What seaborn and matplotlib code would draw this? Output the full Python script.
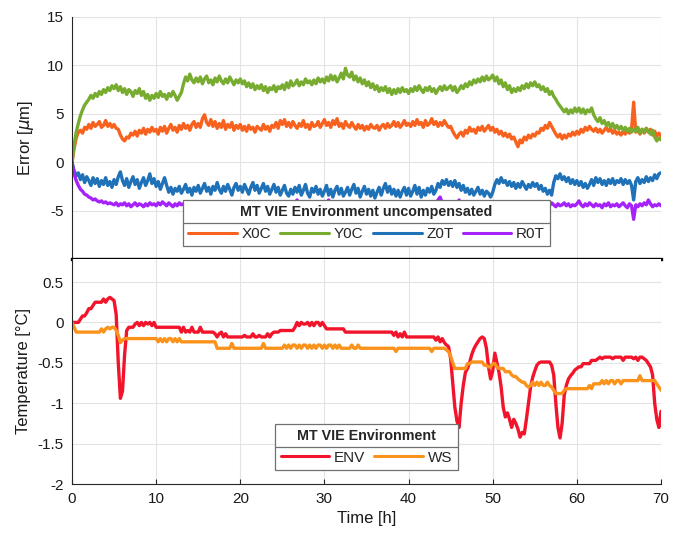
import numpy as np
import pandas as pd
import matplotlib
matplotlib.use("Agg")
import matplotlib.pyplot as plt
from matplotlib.lines import Line2D
import seaborn as sns

# ---------------- data (sampled every 0.25 h, 0 .. 70 h) ----------------
time_h = np.linspace(0, 70, 281)

x0c = [
    0.0, 1.4, 2.5, 3.1, 3.3, 3.0, 3.6, 3.4, 3.9, 3.5, 4.1, 3.7, 3.9, 4.2, 3.6, 3.8, 4.3, 3.7, 4.0, 3.6,
    3.9, 3.5, 3.4, 2.8, 2.4, 2.2, 2.6, 2.5, 3.0, 2.8, 3.2, 2.7, 3.3, 3.0, 3.5, 2.9, 3.4, 3.1, 3.6, 3.2,
    3.4, 2.9, 3.6, 3.2, 3.7, 3.0, 3.5, 3.9, 3.3, 3.6, 3.1, 3.8, 3.4, 4.0, 3.5, 3.8, 3.3, 3.9, 4.2, 3.6,
    4.0, 3.6, 4.5, 4.9, 4.1, 3.8, 4.4, 3.7, 4.2, 3.5, 4.0, 3.6, 4.3, 3.4, 3.9, 3.6, 4.1, 3.3, 3.8, 3.5,
    3.9, 3.3, 3.7, 3.2, 3.8, 3.4, 3.6, 3.1, 3.7, 3.5, 3.3, 3.9, 3.4, 3.7, 3.2, 3.8, 3.6, 4.1, 3.5, 4.3,
    3.9, 4.4, 3.7, 4.1, 3.6, 4.2, 3.8, 3.5, 4.0, 3.7, 4.3, 3.6, 3.9, 3.4, 4.1, 3.7, 3.8, 4.2, 3.6, 4.0,
    4.4, 3.8, 4.1, 3.6, 4.3, 3.9, 4.5, 3.7, 4.0, 3.5, 4.2, 3.8, 3.6, 4.1, 3.7, 3.4, 3.9, 3.5, 3.8, 3.3,
    3.7, 3.4, 3.9, 3.6, 3.5, 3.8, 3.3, 3.7, 3.9, 3.5, 4.0, 3.6, 3.8, 4.2, 3.7, 4.1, 3.6, 3.9, 4.3, 3.8,
    4.0, 3.7, 4.2, 3.8, 4.4, 3.9, 4.1, 3.6, 4.3, 3.8, 4.0, 4.5, 3.9, 4.2, 3.7, 4.1, 3.8, 4.3, 3.9, 3.6,
    3.7, 3.2, 2.8, 2.5, 2.9, 3.1, 2.7, 3.3, 3.0, 3.6, 3.2, 3.4, 3.0, 3.6, 3.3, 3.7, 3.2, 3.5, 3.8, 3.3,
    3.6, 3.1, 3.4, 2.9, 3.2, 2.7, 3.0, 2.6, 2.9, 2.4, 2.6, 2.1, 1.6, 2.3, 2.0, 2.6, 2.3, 2.8, 2.5, 2.9,
    2.7, 3.1, 3.0, 3.5, 3.3, 3.8, 3.5, 4.1, 3.7, 3.3, 2.9, 2.6, 2.9, 2.4, 2.8, 2.5, 2.9, 2.7, 3.1, 2.8,
    3.2, 2.9, 3.4, 3.1, 3.6, 3.3, 3.7, 3.4, 3.2, 3.5, 3.1, 3.4, 3.0, 3.3, 3.6, 3.2, 3.5, 3.0, 3.3, 2.9,
    3.1, 2.8, 3.2, 2.9, 3.3, 3.0, 3.4, 6.2, 3.1, 3.3, 2.9, 3.4, 3.0, 3.5, 3.1, 3.4, 2.8, 3.2, 2.7, 3.0,
    2.7,
]

y0c = [
    0.0, 1.8, 3.1, 4.0, 4.8, 5.4, 5.9, 6.2, 6.5, 6.9, 6.6, 7.1, 6.8, 7.3, 7.0, 7.5, 7.2, 7.7, 7.4, 7.9,
    7.6, 8.0, 7.4, 7.8, 7.2, 7.6, 7.0, 7.5, 7.3, 6.8, 7.4, 7.1, 7.6, 6.9, 7.3, 6.6, 7.0, 6.4, 6.9, 6.6,
    7.1, 6.7, 7.3, 6.8, 7.0, 6.5, 7.1, 6.8, 7.3, 6.9, 6.4, 6.8, 7.2, 8.1, 8.8, 8.4, 9.1, 8.5, 8.2, 8.7,
    8.3, 8.8, 8.1, 8.6, 8.9, 8.2, 8.5, 8.0, 8.7, 8.3, 8.9, 8.4, 8.1, 8.6, 8.2, 8.8, 8.4, 8.0, 8.5, 8.2,
    8.6, 8.1, 8.4, 7.8, 8.2, 7.7, 8.1, 7.5, 7.9, 7.6, 8.0, 7.4, 7.8, 7.2, 7.7, 7.5, 7.9, 7.3, 7.8, 7.6,
    8.0, 7.5, 8.2, 7.7, 8.4, 7.9, 8.1, 8.5, 7.9, 8.3, 8.0, 8.6, 8.2, 8.4, 8.0, 8.5, 8.1, 8.7, 8.3, 8.6,
    8.2, 8.8, 8.4, 9.0, 8.5, 8.9, 8.3, 8.7, 9.2, 8.6, 9.7, 9.0, 8.8, 9.3, 8.5, 8.9, 8.3, 8.7, 8.1, 8.5,
    7.9, 8.3, 7.7, 8.1, 7.5, 7.9, 7.3, 7.7, 7.4, 7.8, 7.2, 7.6, 7.0, 7.5, 7.1, 7.6, 7.2, 7.7, 7.3, 7.5,
    7.1, 7.6, 7.3, 7.8, 7.4, 7.9, 7.5, 7.2, 7.7, 7.4, 7.8, 7.3, 7.6, 7.1, 7.5, 7.8, 7.4, 7.9, 7.5, 7.7,
    7.9, 7.4, 7.8, 7.2, 7.5, 7.9, 7.6, 8.1, 7.8, 8.3, 8.0, 8.5, 8.2, 8.6, 8.3, 8.8, 8.4, 8.9, 8.5, 8.7,
    9.0, 8.4, 8.8, 8.1, 8.5, 7.8, 8.2, 7.5, 7.9, 7.2, 7.6, 7.3, 7.7, 7.4, 7.9, 7.6, 8.1, 7.7, 8.2, 7.9,
    8.3, 7.8, 8.0, 7.5, 7.8, 7.3, 7.6, 7.0, 7.3, 6.8, 6.5, 6.1, 5.8, 5.5, 5.2, 5.5, 5.0, 5.4, 5.1, 5.6,
    5.2, 5.6, 5.1, 5.5, 5.0, 5.4, 5.2, 5.6, 4.9, 4.5, 4.2, 4.6, 4.0, 4.3, 3.8, 4.1, 3.6, 4.0, 3.5, 3.8,
    3.4, 3.7, 3.3, 3.6, 3.2, 3.5, 3.1, 3.4, 3.2, 3.6, 3.0, 3.4, 3.1, 3.5, 3.2, 2.9, 3.3, 2.6, 2.2, 2.5,
    2.3,
]

z0t = [
    0.0, -0.9, -1.4, -1.1, -1.8, -1.3, -2.1, -1.5, -1.9, -2.4, -1.6, -2.2, -1.7, -2.5, -1.9, -2.3, -1.6, -2.4, -2.0, -2.6,
    -1.8, -2.3, -1.5, -1.0, -1.9, -2.4, -1.7, -2.6, -2.0, -1.5, -2.3, -1.8, -2.7, -2.1, -1.6, -2.4, -1.9, -1.2, -2.2, -1.7,
    -2.5, -2.0, -2.8, -2.2, -1.6, -2.4, -3.1, -2.6, -3.3, -2.7, -3.0, -2.5, -3.2, -2.8, -2.3, -3.1, -2.7, -3.4, -2.6, -3.0,
    -2.4, -3.2, -2.7, -2.2, -3.0, -2.6, -3.3, -2.5, -2.9, -2.1, -2.8, -3.2, -2.5, -3.0, -2.3, -2.8, -3.4, -2.6, -2.2, -2.9,
    -2.5, -3.1, -2.3, -2.8, -3.3, -2.6, -2.1, -2.9, -2.4, -3.2, -2.7, -2.2, -3.0, -2.5, -3.3, -2.8, -2.3, -3.1, -2.6, -3.4,
    -2.9, -2.4, -3.2, -3.5, -2.8, -3.3, -2.6, -3.1, -2.4, -3.4, -2.9, -2.3, -3.2, -3.6, -2.7, -3.1, -2.5, -3.3, -2.8, -3.5,
    -3.0, -2.4, -3.4, -2.8, -3.6, -2.9, -2.5, -3.3, -2.7, -3.5, -3.1, -2.6, -3.4, -2.8, -2.3, -3.2, -2.7, -3.6, -3.0, -2.5,
    -3.3, -2.8, -3.5, -2.9, -3.7, -3.1, -2.6, -3.4, -2.7, -2.2, -3.1, -2.5, -3.3, -2.8, -3.5, -2.9, -3.6, -3.0, -2.6, -3.4,
    -2.7, -3.5, -3.0, -2.4, -3.3, -2.6, -3.6, -2.9, -3.4, -2.7, -3.1, -2.5, -3.3, -2.9, -2.2, -2.6, -1.9, -2.3, -1.8, -2.4,
    -2.0, -2.5, -1.9, -2.6, -2.2, -2.9, -2.4, -3.1, -2.7, -3.3, -2.8, -3.4, -3.0, -2.6, -3.3, -2.9, -3.5, -3.0, -3.2, -3.6,
    -3.1, -2.3, -1.8, -2.2, -1.6, -2.1, -1.9, -2.4, -2.0, -2.5, -2.1, -2.7, -2.2, -2.6, -2.0, -2.4, -2.8, -2.3, -2.6, -2.1,
    -2.5, -2.2, -2.8, -2.4, -3.0, -2.7, -3.3, -2.9, -3.4, -2.1, -1.4, -1.7, -1.2, -1.8, -1.5, -2.0, -1.6, -2.2, -1.8, -2.3,
    -1.9, -2.4, -2.0, -2.6, -2.2, -2.7, -2.3, -1.8, -2.4, -1.6, -2.1, -1.7, -2.3, -1.9, -2.4, -1.8, -2.2, -1.7, -2.3, -1.9,
    -2.1, -1.7, -2.3, -1.8, -2.2, -1.9, -2.4, -3.9, -2.0, -1.6, -2.2, -1.8, -2.1, -1.5, -2.0, -1.6, -1.9, -1.3, -1.7, -1.2,
    -1.1,
]

r0t = [
    0.0, -1.2, -1.9, -2.4, -2.8, -3.0, -3.3, -3.4, -3.6, -3.7, -3.9, -3.8, -4.0, -4.1, -4.0, -4.2, -4.1, -4.3, -4.2, -4.3,
    -4.4, -4.2, -4.5, -4.3, -4.4, -4.2, -4.5, -4.3, -4.6, -4.4, -4.2, -4.5, -4.3, -4.4, -4.6, -4.3, -4.5, -4.2, -4.4, -4.3,
    -4.5, -4.2, -4.4, -4.1, -4.3, -4.5, -4.2, -4.4, -4.6, -4.3, -4.5, -4.2, -4.4, -4.3, -4.5, -4.4, -4.6, -4.3, -4.5, -4.2,
    -4.4, -4.6, -4.3, -4.5, -4.4, -4.2, -4.5, -4.3, -4.6, -4.4, -4.5, -4.3, -4.6, -4.4, -4.2, -4.5, -4.3, -4.4, -4.6, -4.3,
    -4.5, -4.3, -4.4, -4.6, -4.2, -4.5, -4.4, -4.3, -4.6, -4.4, -4.5, -4.2, -4.4, -4.6, -4.3, -4.5, -4.4, -4.2, -4.5, -4.3,
    -4.4, -4.6, -4.3, -4.5, -4.2, -4.4, -4.3, -3.9, -4.4, -4.5, -4.3, -4.6, -4.4, -4.2, -4.5, -4.3, -4.6, -4.4, -4.5, -4.3,
    -4.4, -4.2, -3.9, -4.3, -4.5, -4.4, -4.6, -4.3, -4.5, -4.4, -4.2, -4.5, -4.3, -4.6, -4.4, -4.5, -4.3, -4.4, -4.6, -4.3,
    -4.5, -4.4, -4.2, -4.5, -4.3, -4.6, -4.4, -4.5, -4.3, -4.4, -4.6, -4.3, -4.5, -4.4, -4.2, -4.5, -4.3, -4.6, -4.4, -4.5,
    -4.3, -4.4, -4.6, -4.3, -4.5, -4.4, -4.2, -4.5, -4.3, -4.4, -4.6, -4.3, -4.5, -4.4, -3.9, -3.6, -4.2, -4.5, -4.3, -4.6,
    -4.4, -4.5, -4.3, -4.6, -3.9, -4.4, -4.5, -4.3, -4.6, -4.4, -4.5, -4.3, -4.6, -4.4, -4.5, -4.3, -4.6, -4.4, -4.5, -4.3,
    -4.6, -4.4, -4.5, -4.3, -4.6, -4.4, -4.5, -4.3, -4.6, -4.4, -4.5, -4.3, -4.6, -4.4, -4.5, -4.3, -4.6, -4.4, -4.2, -4.5,
    -4.4, -4.6, -4.3, -4.5, -4.4, -4.6, -4.3, -4.5, -4.2, -4.4, -4.6, -4.3, -4.5, -4.4, -4.2, -4.5, -4.3, -4.6, -4.4, -4.5,
    -4.3, -4.0, -4.4, -4.6, -4.3, -4.5, -4.2, -4.4, -4.6, -4.3, -4.5, -4.4, -4.7, -4.3, -4.5, -4.2, -4.6, -4.4, -4.5, -4.3,
    -4.6, -4.4, -4.2, -4.5, -4.7, -4.3, -4.5, -5.9, -4.4, -4.6, -4.3, -4.5, -4.2, -4.4, -3.9, -4.3, -4.6, -4.4, -4.5, -4.3,
    -4.5,
]

env = [
    0.0, 0.0, 0.0, 0.0, 0.04, 0.08, 0.08, 0.12, 0.17, 0.17, 0.21, 0.25, 0.25, 0.25, 0.25, 0.29, 0.25, 0.29, 0.31, 0.29,
    0.27, 0.1, -0.5, -0.94, -0.85, -0.4, -0.1, -0.06, -0.06, -0.06, -0.02, 0.0, -0.04, 0.0, -0.04, 0.0, -0.02, 0.0, -0.04, 0.0,
    -0.06, -0.06, -0.06, -0.06, -0.06, -0.06, -0.06, -0.06, -0.06, -0.06, -0.06, -0.06, -0.12, -0.06, -0.12, -0.1, -0.12, -0.06, -0.12, -0.12,
    -0.12, -0.06, -0.12, -0.12, -0.12, -0.12, -0.12, -0.12, -0.14, -0.18, -0.14, -0.12, -0.18, -0.14, -0.18, -0.18, -0.18, -0.18, -0.18, -0.18,
    -0.18, -0.18, -0.16, -0.18, -0.18, -0.18, -0.14, -0.18, -0.18, -0.16, -0.18, -0.18, -0.18, -0.14, -0.18, -0.14, -0.12, -0.12, -0.12, -0.1,
    -0.1, -0.1, -0.1, -0.1, -0.1, -0.1, -0.06, 0.0, -0.04, 0.0, -0.02, -0.02, 0.0, -0.04, 0.0, -0.04, 0.0, 0.0, -0.04, 0.0,
    -0.04, -0.08, -0.08, -0.08, -0.08, -0.08, -0.08, -0.08, -0.08, -0.08, -0.12, -0.12, -0.12, -0.12, -0.12, -0.12, -0.12, -0.12, -0.12, -0.12,
    -0.12, -0.12, -0.12, -0.12, -0.12, -0.12, -0.12, -0.12, -0.12, -0.12, -0.12, -0.12, -0.12, -0.16, -0.12, -0.18, -0.14, -0.18, -0.12, -0.18,
    -0.18, -0.18, -0.18, -0.18, -0.18, -0.18, -0.18, -0.18, -0.18, -0.18, -0.18, -0.18, -0.18, -0.22, -0.18, -0.24, -0.2, -0.25, -0.28, -0.3,
    -0.45, -0.75, -1.05, -1.22, -1.3, -1.0, -0.78, -0.62, -0.57, -0.5, -0.4, -0.33, -0.28, -0.24, -0.2, -0.18, -0.2, -0.32, -0.55, -0.7,
    -0.6, -0.38, -0.5, -0.62, -0.8, -1.05, -1.17, -1.12, -1.2, -1.3, -1.2, -1.25, -1.32, -1.42, -1.36, -1.38, -1.2, -1.0, -0.8, -0.68,
    -0.6, -0.53, -0.5, -0.49, -0.49, -0.49, -0.49, -0.49, -0.53, -0.65, -1.0, -1.3, -1.43, -1.25, -0.9, -0.78, -0.7, -0.66, -0.63, -0.59,
    -0.57, -0.55, -0.55, -0.51, -0.51, -0.51, -0.51, -0.47, -0.47, -0.47, -0.45, -0.43, -0.45, -0.43, -0.43, -0.43, -0.43, -0.45, -0.43, -0.43,
    -0.43, -0.43, -0.47, -0.43, -0.43, -0.43, -0.43, -0.45, -0.43, -0.47, -0.43, -0.43, -0.45, -0.47, -0.51, -0.55, -0.65, -1.0, -1.2, -1.3,
    -1.1,
]

ws = [
    0.0, -0.06, -0.12, -0.12, -0.12, -0.12, -0.12, -0.12, -0.12, -0.12, -0.12, -0.12, -0.12, -0.12, -0.08, -0.12, -0.08, -0.06, -0.08, -0.06,
    -0.06, -0.1, -0.16, -0.25, -0.22, -0.2, -0.2, -0.2, -0.2, -0.2, -0.2, -0.2, -0.2, -0.2, -0.2, -0.2, -0.2, -0.2, -0.2, -0.2,
    -0.2, -0.24, -0.2, -0.24, -0.2, -0.24, -0.2, -0.2, -0.24, -0.2, -0.24, -0.2, -0.24, -0.24, -0.24, -0.24, -0.24, -0.24, -0.24, -0.24,
    -0.24, -0.24, -0.24, -0.24, -0.24, -0.24, -0.24, -0.24, -0.24, -0.32, -0.32, -0.32, -0.32, -0.32, -0.32, -0.32, -0.26, -0.32, -0.32, -0.32,
    -0.32, -0.32, -0.32, -0.32, -0.32, -0.32, -0.32, -0.32, -0.32, -0.32, -0.32, -0.26, -0.32, -0.32, -0.32, -0.32, -0.32, -0.32, -0.32, -0.32,
    -0.32, -0.28, -0.32, -0.28, -0.32, -0.28, -0.28, -0.32, -0.28, -0.32, -0.28, -0.28, -0.32, -0.28, -0.32, -0.28, -0.32, -0.28, -0.28, -0.32,
    -0.28, -0.32, -0.28, -0.28, -0.32, -0.28, -0.32, -0.28, -0.32, -0.32, -0.32, -0.32, -0.32, -0.28, -0.32, -0.32, -0.28, -0.32, -0.32, -0.32,
    -0.32, -0.32, -0.32, -0.32, -0.32, -0.32, -0.32, -0.32, -0.32, -0.32, -0.32, -0.32, -0.32, -0.32, -0.36, -0.32, -0.32, -0.32, -0.32, -0.32,
    -0.32, -0.32, -0.32, -0.32, -0.32, -0.32, -0.32, -0.32, -0.32, -0.32, -0.32, -0.36, -0.32, -0.32, -0.32, -0.32, -0.32, -0.32, -0.34, -0.36,
    -0.42, -0.5, -0.57, -0.57, -0.57, -0.57, -0.57, -0.57, -0.51, -0.51, -0.49, -0.49, -0.49, -0.49, -0.49, -0.49, -0.53, -0.53, -0.55, -0.55,
    -0.51, -0.51, -0.55, -0.57, -0.57, -0.57, -0.61, -0.61, -0.61, -0.65, -0.67, -0.67, -0.7, -0.72, -0.74, -0.74, -0.78, -0.8, -0.78, -0.74,
    -0.78, -0.74, -0.78, -0.74, -0.78, -0.78, -0.74, -0.78, -0.8, -0.84, -0.88, -0.88, -0.88, -0.88, -0.84, -0.82, -0.82, -0.82, -0.82, -0.82,
    -0.82, -0.82, -0.82, -0.82, -0.82, -0.82, -0.78, -0.82, -0.76, -0.76, -0.76, -0.76, -0.72, -0.76, -0.72, -0.76, -0.72, -0.72, -0.76, -0.72,
    -0.72, -0.76, -0.72, -0.72, -0.72, -0.72, -0.72, -0.72, -0.72, -0.72, -0.66, -0.72, -0.72, -0.72, -0.72, -0.72, -0.72, -0.72, -0.76, -0.8,
    -0.84,
]

error_series = ["X0C", "Y0C", "Z0T", "R0T"]
temp_series = ["ENV", "WS"]
error_title = "MT VIE Environment uncompensated"
temp_title = "MT VIE Environment"
error_colors = ["#F8621E", "#77AC30", "#1F72B8", "#A522FA"]
temp_colors = ["#F2142A", "#FA931C"]

for arr in (x0c, y0c, z0t, r0t, env, ws):
    assert len(arr) == len(time_h), len(arr)

err_df = pd.DataFrame({
    "t": np.tile(time_h, 4),
    "v": np.concatenate([x0c, y0c, z0t, r0t]),
    "series": np.repeat(error_series, len(time_h)),
})
tmp_df = pd.DataFrame({
    "t": np.tile(time_h, 2),
    "v": np.concatenate([env, ws]),
    "series": np.repeat(temp_series, len(time_h)),
})

# ---------------- styling ----------------
sns.set_theme(style="whitegrid")
plt.rcParams["font.family"] = ["Liberation Sans", "DejaVu Sans"]
plt.rcParams["mathtext.fontset"] = "dejavusans"
plt.rcParams["axes.unicode_minus"] = False

W, H = 689, 534
fig = plt.figure(figsize=(W / 100, H / 100), dpi=100)
L = 72 / W
AW = (661 - 72) / W
ax1 = fig.add_axes([L, 1 - 259 / H, AW, (259 - 17) / H])
ax2 = fig.add_axes([L, 1 - 484 / H, AW, (484 - 259) / H])

grid_c = "#E3E3E3"
spine_c = "#262626"

sns.lineplot(data=err_df, x="t", y="v", hue="series", hue_order=error_series,
             palette=error_colors, estimator=None, sort=False, lw=2.4,
             legend=False, ax=ax1)
sns.lineplot(data=tmp_df, x="t", y="v", hue="series", hue_order=temp_series,
             palette=temp_colors, estimator=None, sort=False, lw=2.4,
             legend=False, ax=ax2)

for ax in (ax1, ax2):
    ax.set_facecolor("white")
    ax.set_xlim(0, 70)
    ax.set_xticks(np.arange(0, 71, 10))
    ax.grid(True, color=grid_c, lw=0.8)
    ax.tick_params(axis="both", direction="in", length=3.5, width=0.8,
                   color=spine_c, labelsize=11, labelcolor="#1a1a1a", pad=6)
    ax.spines["top"].set_visible(False)
    ax.spines["right"].set_visible(False)
    ax.spines["left"].set_color(spine_c)
    ax.spines["left"].set_linewidth(0.8)

ax1.set_ylim(-10, 15)
ax1.set_yticks([-5, 0, 5, 10, 15])
ax1.tick_params(axis="x", bottom=False, labelbottom=False)
ax1.spines["bottom"].set_color("black")
ax1.spines["bottom"].set_linewidth(2.4)
ax1.spines["bottom"].set_zorder(5)
ax1.set_xlabel("")
ax1.set_ylabel(r"Error [$\mu$m]", fontsize=12, color="#1a1a1a", labelpad=8)

ax2.set_ylim(-2, 0.785)
ax2.set_yticks([-2, -1.5, -1, -0.5, 0, 0.5])
ax2.set_yticklabels(["-2", "-1.5", "-1", "-0.5", "0", "0.5"])
ax2.set_xticklabels([str(v) for v in range(0, 71, 10)])
ax2.tick_params(axis="x", bottom=True)
ax2.spines["bottom"].set_color(spine_c)
ax2.spines["bottom"].set_linewidth(0.8)
ax2.set_xlabel("Time [h]", fontsize=12, color="#1a1a1a", labelpad=3)
ax2.set_ylabel("Temperature [°C]", fontsize=12, color="#1a1a1a", labelpad=5)


def make_legend(ax, names, colors, title, anchor_y):
    handles = [Line2D([0], [0], color=c, lw=2.2) for c in colors]
    leg = ax.legend(handles, names, title=title, loc="lower center",
                    bbox_to_anchor=(0.5, anchor_y), ncol=len(names),
                    fontsize=11, title_fontproperties={"weight": "bold", "size": 10.3},
                    frameon=True, fancybox=False, framealpha=1, edgecolor="#707070",
                    handlelength=3.2, handletextpad=0.3, columnspacing=0.6,
                    borderpad=0.35, borderaxespad=0)
    leg.get_frame().set_linewidth(0.9)
    leg.set_zorder(10)
    return leg


leg1 = make_legend(ax1, error_series, error_colors, error_title, 0.052)
leg2 = make_legend(ax2, temp_series, temp_colors, temp_title, 0.062)

fig.canvas.draw()
renderer = fig.canvas.get_renderer()
inv = fig.transFigure.inverted()
for leg in (leg1, leg2):
    fb = leg.get_frame().get_window_extent(renderer)
    tb = leg.get_title().get_window_extent(renderer)
    eb = leg.get_texts()[0].get_window_extent(renderer)
    ymid = (tb.y0 + eb.y1) / 2
    (x0, y0) = inv.transform((fb.x0, ymid))
    (x1, _) = inv.transform((fb.x1, ymid))
    fig.add_artist(Line2D([x0, x1], [y0, y0], color="#707070", lw=0.9,
                          transform=fig.transFigure, zorder=20))

fig.savefig("out.png", dpi=100, facecolor="white")
